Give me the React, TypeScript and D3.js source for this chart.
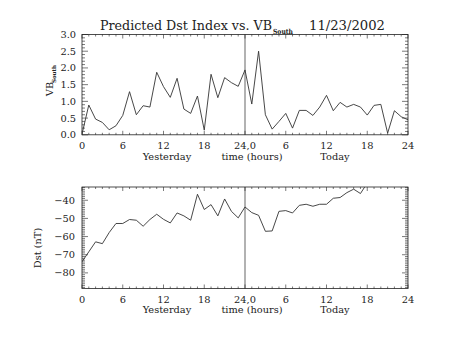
import React from "react";
import * as d3 from "d3";

const hours: number[] = d3.range(0, 49);
const vbSouth: number[] = [
  0.02, 0.89, 0.47, 0.37, 0.15, 0.27, 0.58, 1.29, 0.6, 0.87, 0.83, 1.87, 1.44,
  1.12, 1.69, 0.77, 0.64, 1.16, 0.14, 1.81, 1.11, 1.71, 1.56, 1.45, 1.94,
  0.92, 2.5, 0.6, 0.17, 0.4, 0.64, 0.2, 0.73, 0.73, 0.58, 0.83, 1.18, 0.72,
  0.97, 0.83, 0.91, 0.83, 0.59, 0.88, 0.91, 0.05, 0.72, 0.54, 0.45,
];
const dstHours: number[] = d3.range(0, 43);
const dst: number[] = [
  -73.9, -68.4, -62.9, -63.9, -57.8, -52.8, -52.8, -50.6, -51, -54.3, -50.6,
  -47.7, -50.5, -52.5, -47, -48.6, -51, -36.7, -45.1, -42.4, -48.6, -39.3,
  -46.1, -49.7, -43.7, -46.8, -48.3, -57.1, -56.9, -46.1, -45.7, -47, -42.8,
  -42.2, -43.3, -42.2, -42.2, -38.9, -38.5, -35.8, -33.9, -36.3, -30.5,
];
const xTickLabels: string[] = ["0", "6", "12", "18", "24,0", "6", "12", "18", "24"];
const vbTicks: number[] = [0, 0.5, 1, 1.5, 2, 2.5, 3];
const dstTicks: number[] = [-80, -70, -60, -50, -40];

const FONT = "'DejaVu Serif', serif";
const FS = 9.8;
const X0 = 82;
const X1 = 408;

type PanelProps = {
  top: number;
  bottom: number;
  domain: [number, number];
  ticks: number[];
  minorStep: number;
  fmt: (v: number) => string;
  xs: number[];
  ys: number[];
  clipId: string;
  labelRight: number;
};

function Panel({ top, bottom, domain, ticks, minorStep, fmt, xs, ys, clipId, labelRight }: PanelProps) {
  const x = d3.scaleLinear().domain([0, 48]).range([X0, X1]);
  const y = d3.scaleLinear().domain(domain).range([bottom, top]);
  const line = d3
    .line<number>()
    .x((_, i) => x(xs[i]))
    .y((d) => y(d));
  const minorY = d3
    .range(Math.ceil(domain[0] / minorStep) * minorStep, domain[1] + 1e-9, minorStep)
    .map((v) => +v.toFixed(4));
  const majorX = d3.range(0, 49, 6);
  const minorX = d3.range(0, 49, 1);
  const stroke = "#222";
  return (
    <g>
      <defs>
        <clipPath id={clipId}>
          <rect x={X0} y={top} width={X1 - X0} height={bottom - top} />
        </clipPath>
      </defs>
      <rect x={X0} y={top} width={X1 - X0} height={bottom - top} fill="none" stroke={stroke} strokeWidth={0.8} />
      {minorX.map((h) => {
        const len = h % 6 === 0 ? 4 : 2;
        return (
          <g key={"x" + h} stroke={stroke} strokeWidth={0.6}>
            <line x1={x(h)} x2={x(h)} y1={bottom} y2={bottom - len} />
            <line x1={x(h)} x2={x(h)} y1={top} y2={top + len} />
          </g>
        );
      })}
      {minorY.map((v) => {
        const isMajor = ticks.some((t) => Math.abs(t - v) < 1e-6);
        const len = isMajor ? 6 : 3;
        return (
          <g key={"y" + v} stroke={stroke} strokeWidth={0.6}>
            <line x1={X0} x2={X0 + len} y1={y(v)} y2={y(v)} />
            <line x1={X1} x2={X1 - len} y1={y(v)} y2={y(v)} />
          </g>
        );
      })}
      <line x1={x(24)} x2={x(24)} y1={top} y2={bottom} stroke={stroke} strokeWidth={0.7} />
      <path d={line(ys) || ""} fill="none" stroke="#333" strokeWidth={0.9} clipPath={`url(#${clipId})`} />
      {ticks.map((t) => (
        <text key={"yl" + t} x={labelRight} y={y(t)} dy="0.35em" textAnchor="end" fontSize={FS} fontFamily={FONT} fill="#222">
          {fmt(t)}
        </text>
      ))}
      {majorX.map((h, i) => (
        <text key={"xl" + h} x={x(h)} y={bottom + 11} dy="0.35em" textAnchor="middle" fontSize={FS} fontFamily={FONT} fill="#222">
          {xTickLabels[i]}
        </text>
      ))}
      <text x={167} y={bottom + 21.5} dy="0.35em" textAnchor="middle" fontSize={FS} fontFamily={FONT} fill="#222">
        Yesterday
      </text>
      <text x={252} y={bottom + 21.5} dy="0.35em" textAnchor="middle" fontSize={FS} fontFamily={FONT} fill="#222">
        time (hours)
      </text>
      <text x={335} y={bottom + 21.5} dy="0.35em" textAnchor="middle" fontSize={FS} fontFamily={FONT} fill="#222">
        Today
      </text>
    </g>
  );
}

export default function App() {
  return (
    <svg width={453} height={340} style={{ display: "block", position: "absolute", left: 0, top: 0, background: "#fff" }}>
      <rect width={453} height={340} fill="#fff" />
      <text x={100} y={25} dy="0.35em" fontSize={13} fontFamily={FONT} fill="#222" textLength={172} lengthAdjust="spacingAndGlyphs">
        Predicted Dst Index vs. VB
      </text>
      <text x={273} y={32} dy="0.35em" fontSize={7} fontFamily={FONT} fontWeight="bold" fill="#222" textLength={20} lengthAdjust="spacingAndGlyphs">
        South
      </text>
      <text x={309} y={25} dy="0.35em" fontSize={13} fontFamily={FONT} fill="#222" textLength={76} lengthAdjust="spacingAndGlyphs">
        11/23/2002
      </text>
      <Panel
        top={34.5}
        bottom={134.8}
        domain={[0, 3]}
        ticks={vbTicks}
        minorStep={0.1}
        fmt={(v) => v.toFixed(1)}
        xs={hours}
        ys={vbSouth}
        clipId="c1"
        labelRight={76}
      />
      <Panel
        top={187}
        bottom={288.5}
        domain={[-88.6, -32.7]}
        ticks={dstTicks}
        minorStep={1}
        fmt={(v) => "\u2212" + Math.abs(v)}
        xs={dstHours}
        ys={dst}
        clipId="c2"
        labelRight={75}
      />
      <g transform="translate(50,84) rotate(-90)">
        <text x={-5} y={0} dy="0.35em" textAnchor="middle" fontSize={FS} fontFamily={FONT} fill="#222">
          VB
        </text>
        <text x={10} y={4.5} dy="0.35em" textAnchor="middle" fontSize={5.5} fontWeight="bold" fontFamily={FONT} fill="#222">
          South
        </text>
      </g>
      <text transform="translate(38,248) rotate(-90)" textAnchor="middle" dy="0.35em" fontSize={FS} fontFamily={FONT} fill="#222">
        Dst (nT)
      </text>
    </svg>
  );
}
